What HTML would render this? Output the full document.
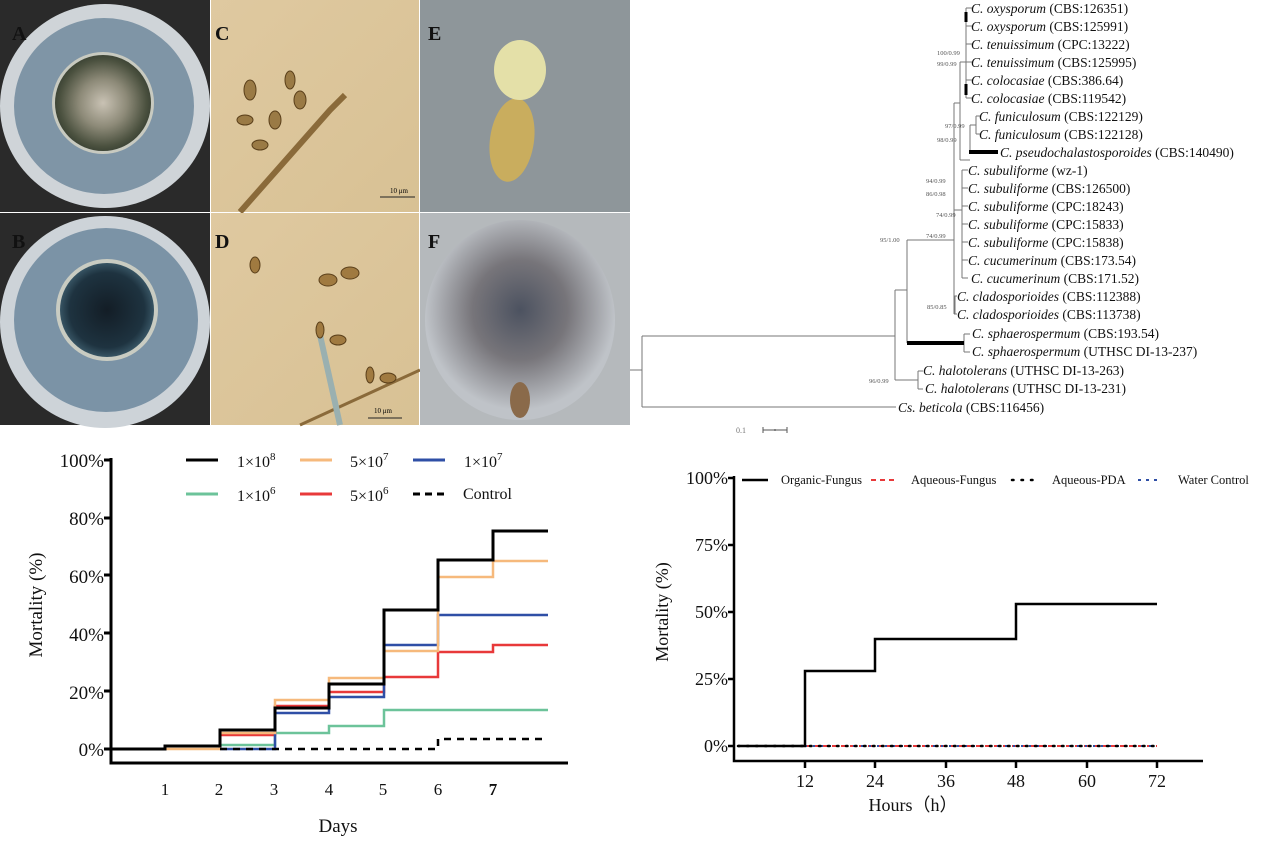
<!DOCTYPE html>
<html><head><meta charset="utf-8"><style>
html,body{margin:0;padding:0;background:#fff;}
svg{display:block;font-family:"Liberation Serif",serif;}
</style></head><body>
<svg width="1266" height="857" viewBox="0 0 1266 857" xmlns="http://www.w3.org/2000/svg">
<defs>
<radialGradient id="colA" cx="0.5" cy="0.5" r="0.5"><stop offset="0" stop-color="#c9c2b4"/><stop offset="0.5" stop-color="#8d8a78"/><stop offset="0.9" stop-color="#4b513f"/><stop offset="1" stop-color="#3e4536"/></radialGradient>
<radialGradient id="colB" cx="0.5" cy="0.5" r="0.5"><stop offset="0" stop-color="#131d26"/><stop offset="0.8" stop-color="#1e3340"/><stop offset="1" stop-color="#375463"/></radialGradient>
<radialGradient id="fuzz" cx="0.5" cy="0.45" r="0.5"><stop offset="0" stop-color="#4c5260"/><stop offset="0.5" stop-color="#77757a"/><stop offset="1" stop-color="#bfc3c8"/></radialGradient>
<linearGradient id="beige" x1="0" y1="0" x2="1" y2="1"><stop offset="0" stop-color="#dfc9a0"/><stop offset="1" stop-color="#d8c194"/></linearGradient>
</defs>
<rect width="1266" height="857" fill="#fff"/>
<!-- Photos -->
<rect x="0" y="0" width="210" height="212" fill="#2a2a2a"/>
<ellipse cx="105" cy="106" rx="105" ry="102" fill="#cfd4d8"/>
<ellipse cx="104" cy="106" rx="90" ry="88" fill="#7f95a6"/>
<circle cx="103" cy="103" r="51" fill="#c8cac0"/>
<circle cx="103" cy="103" r="48" fill="url(#colA)"/>
<rect x="0" y="213" width="210" height="212" fill="#2a2a2a"/>
<ellipse cx="105" cy="322" rx="105" ry="106" fill="#cdd3d8"/>
<ellipse cx="106" cy="320" rx="92" ry="92" fill="#7b93a6"/>
<circle cx="107" cy="310" r="51" fill="#c9ccc2"/>
<circle cx="107" cy="310" r="47" fill="url(#colB)"/>
<rect x="211" y="0" width="208" height="212" fill="url(#beige)"/>
<path d="M240 212 L330 110 L345 95" stroke="#8a6a3a" stroke-width="6" fill="none"/>
<g fill="#9a7a45" stroke="#5a3f1a"><ellipse cx="250" cy="90" rx="6" ry="10"/><ellipse cx="275" cy="120" rx="6" ry="9"/><ellipse cx="245" cy="120" rx="8" ry="5"/><ellipse cx="290" cy="80" rx="5" ry="9"/><ellipse cx="300" cy="100" rx="6" ry="9"/><ellipse cx="260" cy="145" rx="8" ry="5"/></g>
<rect x="211" y="213" width="208" height="212" fill="url(#beige)"/>
<path d="M300 425 L420 370" stroke="#8a6a3a" stroke-width="3" fill="none"/>
<path d="M340 425 L320 335" stroke="#9ab0b0" stroke-width="6" fill="none"/>
<g fill="#a07a40" stroke="#5a3f1a"><ellipse cx="255" cy="265" rx="5" ry="8"/><ellipse cx="328" cy="280" rx="9" ry="6"/><ellipse cx="350" cy="273" rx="9" ry="6"/><ellipse cx="320" cy="330" rx="4" ry="8"/><ellipse cx="338" cy="340" rx="8" ry="5"/><ellipse cx="370" cy="375" rx="4" ry="8"/><ellipse cx="388" cy="378" rx="8" ry="5"/></g>
<line x1="380" y1="197" x2="415" y2="197" stroke="#222"/><text x="390" y="193" font-size="7">10 μm</text>
<line x1="368" y1="418" x2="402" y2="418" stroke="#222"/><text x="374" y="413" font-size="7">10 μm</text>
<rect x="420" y="0" width="210" height="212" fill="#9aa1a4"/>
<rect x="420" y="0" width="210" height="212" fill="#7e878c" opacity="0.4"/>
<ellipse cx="512" cy="140" rx="22" ry="42" fill="#c9ad5e" transform="rotate(8 512 140)"/>
<ellipse cx="520" cy="70" rx="26" ry="30" fill="#e4e0a8"/>
<rect x="420" y="213" width="210" height="212" fill="#b5b9bc"/>
<ellipse cx="520" cy="320" rx="95" ry="100" fill="url(#fuzz)"/>
<ellipse cx="520" cy="400" rx="10" ry="18" fill="#8a6a4a"/>
<g font-size="20" font-weight="bold" fill="#111">
<text x="12" y="40">A</text><text x="12" y="248">B</text><text x="215" y="40">C</text><text x="215" y="248">D</text><text x="428" y="40">E</text><text x="428" y="248">F</text></g>
<!-- Tree -->
<g stroke="#777" stroke-width="1" fill="none">
<path d="M630 370 H642 M642 336 V407 M642 336 H895 M642 407 H896"/>
<path d="M895 290 V380 M895 290 H907 M907 240 V343 M895 380 H918 M918 371 V389 M918 371 H923 M918 389 H923"/>
<path d="M964 334 V352 M964 334 H970 M964 352 H970"/>
<path d="M907 240 H954 M954 103 V314 M954 296 H957 M954 314 H957 M955 296 V314"/>
<path d="M954 103 H960 M960 62 V160 M960 62 H966 M966 8 V98 M966 8 H972 M966 26 H972 M966 44 H972 M966 62 H972 M966 80 H972 M966 98 H972"/>
<path d="M960 160 H970 M970 125 V152 M970 125 H976 M976 116 V134 M976 116 H980 M976 134 H980"/>
<path d="M954 210 H962 M962 170 V278 M962 170 H968 M962 188 H968 M962 206 H968 M962 224 H968 M962 242 H968 M962 260 H968 M962 278 H968"/>
</g>
<path d="M969 152 H998" stroke="#000" stroke-width="4"/>
<path d="M907 343 H964" stroke="#000" stroke-width="4"/>
<path d="M966 12 V22 M966 84 V95" stroke="#000" stroke-width="3"/>
<g font-size="6.5" fill="#555">
<text x="937" y="55">100/0.99</text><text x="937" y="66">99/0.99</text><text x="945" y="128">97/0.99</text><text x="937" y="142">98/0.99</text>
<text x="926" y="183">94/0.99</text><text x="926" y="196">86/0.98</text><text x="936" y="217">74/0.99</text><text x="926" y="238">74/0.99</text>
<text x="880" y="242">95/1.00</text><text x="927" y="309">85/0.85</text><text x="869" y="383">96/0.99</text></g>
<g font-size="13.5" fill="#111">
<text x="971" y="13"><tspan font-style="italic">C. oxysporum</tspan> (CBS:126351)</text>
<text x="971" y="31"><tspan font-style="italic">C. oxysporum</tspan> (CBS:125991)</text>
<text x="971" y="49"><tspan font-style="italic">C. tenuissimum</tspan> (CPC:13222)</text>
<text x="971" y="67"><tspan font-style="italic">C. tenuissimum</tspan> (CBS:125995)</text>
<text x="971" y="85"><tspan font-style="italic">C. colocasiae</tspan> (CBS:386.64)</text>
<text x="971" y="103"><tspan font-style="italic">C. colocasiae</tspan> (CBS:119542)</text>
<text x="979" y="121"><tspan font-style="italic">C. funiculosum</tspan> (CBS:122129)</text>
<text x="979" y="139"><tspan font-style="italic">C. funiculosum</tspan> (CBS:122128)</text>
<text x="1000" y="157"><tspan font-style="italic">C. pseudochalastosporoides</tspan> (CBS:140490)</text>
<text x="968" y="175"><tspan font-style="italic">C. subuliforme</tspan> (wz-1)</text>
<text x="968" y="193"><tspan font-style="italic">C. subuliforme</tspan> (CBS:126500)</text>
<text x="968" y="211"><tspan font-style="italic">C. subuliforme</tspan> (CPC:18243)</text>
<text x="968" y="229"><tspan font-style="italic">C. subuliforme</tspan> (CPC:15833)</text>
<text x="968" y="247"><tspan font-style="italic">C. subuliforme</tspan> (CPC:15838)</text>
<text x="968" y="265"><tspan font-style="italic">C. cucumerinum</tspan> (CBS:173.54)</text>
<text x="971" y="283"><tspan font-style="italic">C. cucumerinum</tspan> (CBS:171.52)</text>
<text x="957" y="301"><tspan font-style="italic">C. cladosporioides</tspan> (CBS:112388)</text>
<text x="957" y="319"><tspan font-style="italic">C. cladosporioides</tspan> (CBS:113738)</text>
<text x="972" y="338"><tspan font-style="italic">C. sphaerospermum</tspan> (CBS:193.54)</text>
<text x="972" y="356"><tspan font-style="italic">C. sphaerospermum</tspan> (UTHSC DI-13-237)</text>
<text x="923" y="375"><tspan font-style="italic">C. halotolerans</tspan> (UTHSC DI-13-263)</text>
<text x="925" y="393"><tspan font-style="italic">C. halotolerans</tspan> (UTHSC DI-13-231)</text>
<text x="898" y="412"><tspan font-style="italic">Cs. beticola</tspan> (CBS:116456)</text>
</g>
<text x="736" y="433" font-size="8" fill="#777">0.1</text>
<path d="M763 430 H787 M763 427 V433 M787 427 V433 M775 429 V431" stroke="#555" fill="none"/>

<!-- Left chart -->
<g stroke="#000" stroke-width="3" fill="none">
<path d="M111 458 V763 H568"/>
<path d="M111 460 H104 M111 518 H104 M111 575 H104 M111 633 H104 M111 691 H104 M111 749 H104"/>
</g>
<g font-size="19" text-anchor="end" fill="#111">
<text x="104" y="467">100%</text><text x="104" y="525">80%</text><text x="104" y="583">60%</text><text x="104" y="641">40%</text><text x="104" y="699">20%</text><text x="104" y="756">0%</text></g>
<g font-size="17" text-anchor="middle" fill="#111">
<text x="165" y="795">1</text><text x="219" y="795">2</text><text x="274" y="795">3</text><text x="329" y="795">4</text><text x="383" y="795">5</text><text x="438" y="795">6</text><text x="493" y="795" font-weight="bold">7</text>
<text x="338" y="832" font-size="19">Days</text>
<text transform="translate(42,605) rotate(-90)" font-size="19">Mortality (%)</text></g>
<g fill="none" stroke-width="2.5">
<path d="M220 749 V745 H275 V733 H329 V726 H384 V710 H548" stroke="#6cc39a"/>
<path d="M220 749 V735 H275 V706 H329 V692 H384 V677 H438 V652 H493 V645 H548" stroke="#e8393a"/>
<path d="M220 749 H275 V713 H329 V697 H384 V645 H438 V615 H548" stroke="#2f4fa6"/>
<path d="M165 749 H220 V733 H275 V700 H329 V678 H384 V651 H438 V577 H493 V561 H548" stroke="#f6b97c"/>
<path d="M220 749 H438 V739 H548" stroke="#000" stroke-dasharray="7,6"/>
<path d="M111 749 H165 V746 H220 V730 H275 V708 H329 V684 H384 V610 H438 V560 H493 V531 H548" stroke="#000" stroke-width="3"/>
</g>
<g stroke-width="3">
<line x1="186" y1="460" x2="218" y2="460" stroke="#000"/>
<line x1="300" y1="460" x2="332" y2="460" stroke="#f6b97c"/>
<line x1="413" y1="460" x2="445" y2="460" stroke="#2f4fa6"/>
<line x1="186" y1="494" x2="218" y2="494" stroke="#6cc39a"/>
<line x1="300" y1="494" x2="332" y2="494" stroke="#e8393a"/>
<line x1="413" y1="494" x2="445" y2="494" stroke="#000" stroke-dasharray="7,5"/>
</g>
<g font-size="16" fill="#111">
<text x="237" y="467">1×10<tspan dy="-7" font-size="11">8</tspan></text>
<text x="350" y="467">5×10<tspan dy="-7" font-size="11">7</tspan></text>
<text x="464" y="467">1×10<tspan dy="-7" font-size="11">7</tspan></text>
<text x="237" y="501">1×10<tspan dy="-7" font-size="11">6</tspan></text>
<text x="350" y="501">5×10<tspan dy="-7" font-size="11">6</tspan></text>
<text x="463" y="499">Control</text></g>

<!-- Right chart -->
<g stroke="#000" stroke-width="2.5" fill="none">
<path d="M734 476 V761 H1203"/>
<path d="M734 478 H728 M734 545 H728 M734 612 H728 M734 679 H728 M734 746 H728"/>
<path d="M805 761 V768 M875 761 V768 M946 761 V768 M1016 761 V768 M1087 761 V768 M1157 761 V768"/>
</g>
<g font-size="18" text-anchor="end" fill="#111">
<text x="728" y="484">100%</text><text x="728" y="551">75%</text><text x="728" y="618">50%</text><text x="728" y="685">25%</text><text x="728" y="752">0%</text></g>
<g font-size="18" text-anchor="middle" fill="#111">
<text x="805" y="787">12</text><text x="875" y="787">24</text><text x="946" y="787">36</text><text x="1016" y="787">48</text><text x="1087" y="787">60</text><text x="1157" y="787">72</text>
<text x="913" y="811">Hours（h）</text>
<text transform="translate(668,612) rotate(-90)">Mortality (%)</text></g>
<path d="M805 746 H1157" stroke="#e8393a" stroke-width="2" stroke-dasharray="5,4"/>
<path d="M805 746 H1157" stroke="#2f4fa6" stroke-width="2" stroke-dasharray="2,6"/>
<path d="M738 746 H1157" stroke="#000" stroke-width="2.5" stroke-dasharray="1.5,7.5" stroke-linecap="round"/>
<path d="M738 746 H805 V671 H875 V639 H1016 V604 H1157" stroke="#000" stroke-width="2.5" fill="none"/>
<line x1="742" y1="480" x2="768" y2="480" stroke="#000" stroke-width="2.5"/>
<line x1="871" y1="480" x2="897" y2="480" stroke="#e8393a" stroke-width="2" stroke-dasharray="5,4"/>
<line x1="1012" y1="480" x2="1038" y2="480" stroke="#000" stroke-width="2.5" stroke-dasharray="1.5,8" stroke-linecap="round"/>
<line x1="1138" y1="480" x2="1160" y2="480" stroke="#2f4fa6" stroke-width="2" stroke-dasharray="3,5"/>
<g font-size="12.5" fill="#111">
<text x="781" y="484">Organic-Fungus</text><text x="911" y="484">Aqueous-Fungus</text><text x="1052" y="484">Aqueous-PDA</text><text x="1178" y="484">Water Control</text></g>
</svg>
</body></html>
